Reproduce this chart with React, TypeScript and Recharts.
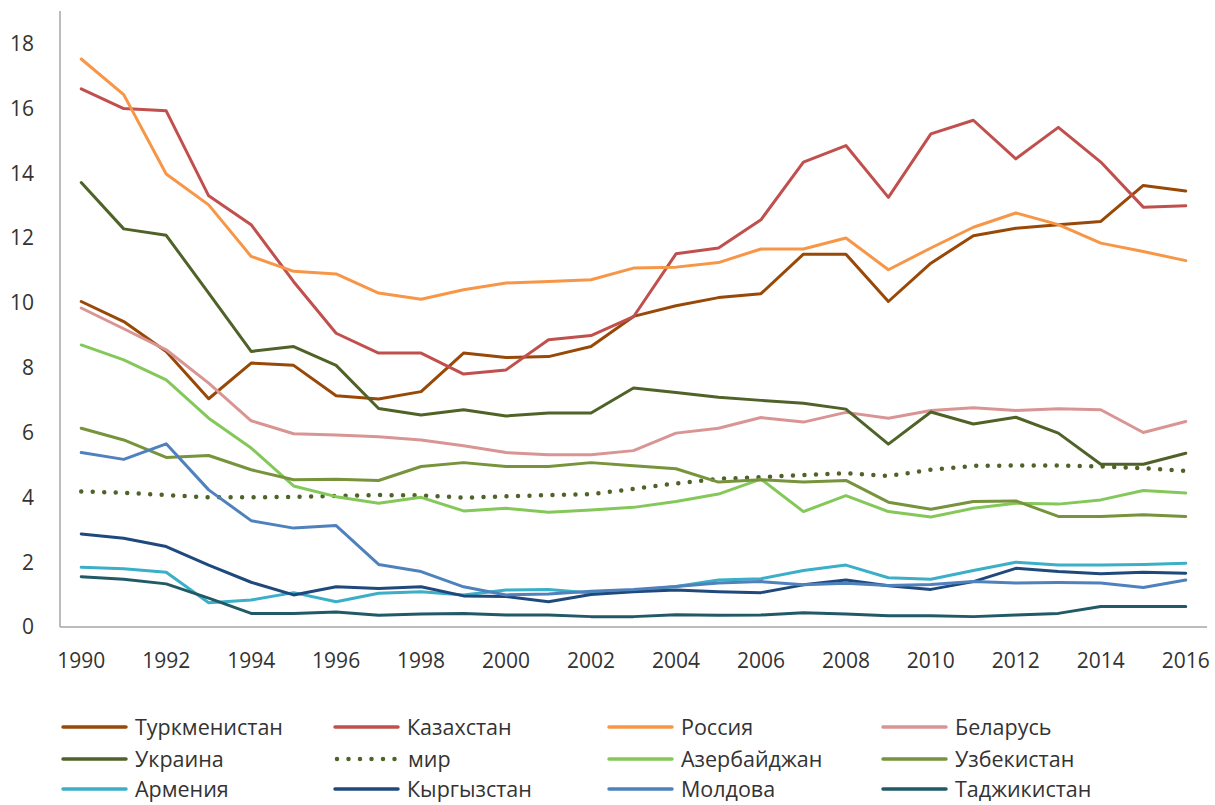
import React from "react";
import { LineChart, Line, XAxis, YAxis } from "recharts";

const years = [1990,1991,1992,1993,1994,1995,1996,1997,1998,1999,2000,2001,2002,2003,2004,2005,2006,2007,2008,2009,2010,2011,2012,2013,2014,2015,2016];
const xTicks = [1990,1992,1994,1996,1998,2000,2002,2004,2006,2008,2010,2012,2014,2016];
const yTicks = [0,2,4,6,8,10,12,14,16,18];

const turkmenistan = [10.04,9.42,8.5,7.04,8.14,8.07,7.13,7.03,7.26,8.45,8.31,8.34,8.65,9.58,9.91,10.16,10.28,11.5,11.5,10.04,11.22,12.07,12.3,12.41,12.51,13.62,13.45];
const kazakhstan = [16.6,15.99,15.92,13.3,12.41,10.65,9.06,8.45,8.45,7.8,7.93,8.86,8.99,9.57,11.51,11.69,12.56,14.34,14.85,13.25,15.21,15.63,14.44,15.41,14.34,12.95,12.99];
const russia = [17.52,16.42,13.97,13.02,11.43,10.97,10.89,10.3,10.11,10.4,10.61,10.66,10.71,11.07,11.1,11.24,11.66,11.66,12.0,11.02,11.69,12.33,12.77,12.41,11.84,11.58,11.3];
const belarus = [9.84,9.2,8.55,7.52,6.36,5.96,5.92,5.87,5.77,5.59,5.38,5.31,5.31,5.44,5.98,6.13,6.46,6.32,6.62,6.44,6.68,6.76,6.68,6.73,6.7,6.0,6.34];
const ukraine = [13.71,12.28,12.08,10.3,8.5,8.65,8.07,6.74,6.54,6.7,6.51,6.6,6.6,7.37,7.23,7.09,6.99,6.9,6.72,5.64,6.63,6.26,6.47,5.98,5.02,5.02,5.36];
const world = [4.18,4.14,4.07,4.0,4.0,4.01,4.04,4.07,4.06,3.99,4.03,4.07,4.1,4.26,4.43,4.57,4.62,4.69,4.74,4.66,4.85,4.97,4.98,4.98,4.95,4.9,4.81];
const azerbaijan = [8.7,8.24,7.62,6.44,5.52,4.35,4.02,3.82,4.0,3.58,3.66,3.54,3.61,3.69,3.87,4.1,4.56,3.56,4.05,3.56,3.39,3.66,3.82,3.79,3.92,4.21,4.13];
const uzbekistan = [6.13,5.77,5.23,5.29,4.85,4.54,4.56,4.52,4.95,5.07,4.95,4.95,5.07,4.97,4.88,4.47,4.54,4.47,4.52,3.85,3.63,3.87,3.89,3.41,3.41,3.46,3.41];
const armenia = [1.84,1.8,1.69,0.75,0.83,1.06,0.78,1.04,1.09,0.99,1.14,1.16,1.05,1.12,1.25,1.45,1.49,1.74,1.91,1.52,1.47,1.74,2.0,1.91,1.91,1.93,1.97];
const kyrgyzstan = [2.87,2.74,2.48,1.91,1.38,0.99,1.24,1.19,1.24,0.96,0.94,0.78,1.0,1.09,1.14,1.09,1.06,1.3,1.45,1.27,1.16,1.4,1.81,1.71,1.64,1.69,1.66];
const moldova = [5.38,5.17,5.65,4.23,3.28,3.05,3.13,1.93,1.71,1.24,0.99,1.02,1.1,1.16,1.25,1.36,1.4,1.3,1.35,1.28,1.31,1.4,1.36,1.37,1.36,1.22,1.45];
const tajikistan = [1.55,1.47,1.33,0.89,0.42,0.42,0.46,0.36,0.4,0.42,0.37,0.37,0.32,0.32,0.38,0.36,0.37,0.44,0.4,0.35,0.35,0.32,0.37,0.42,0.63,0.63,0.63];

const series = [
  { key: "tm", name: "Туркменистан", values: turkmenistan, color: "#984807" },
  { key: "kz", name: "Казахстан", values: kazakhstan, color: "#C0504D" },
  { key: "ru", name: "Россия", values: russia, color: "#F79646" },
  { key: "by", name: "Беларусь", values: belarus, color: "#D99594" },
  { key: "ua", name: "Украина", values: ukraine, color: "#4F6228" },
  { key: "wd", name: "мир", values: world, color: "#4F6228", dotted: true },
  { key: "az", name: "Азербайджан", values: azerbaijan, color: "#84C85A" },
  { key: "uz", name: "Узбекистан", values: uzbekistan, color: "#77933C" },
  { key: "am", name: "Армения", values: armenia, color: "#3BAFC8" },
  { key: "kg", name: "Кыргызстан", values: kyrgyzstan, color: "#1F497D" },
  { key: "md", name: "Молдова", values: moldova, color: "#4F81BD" },
  { key: "tj", name: "Таджикистан", values: tajikistan, color: "#215967" },
];

const data = years.map((y, i) => {
  const row: Record<string, number> = { year: y };
  series.forEach((s) => (row[s.key] = s.values[i]));
  return row;
});

const FONT = "'Open Sans', sans-serif";
const TEXT = "#333333";
const colLeft = [61, 333, 607, 881];
const rowY = [727, 759, 789];

export default function App() {
  return (
    <div style={{ position: "absolute", left: 0, top: 0, width: 1215, height: 805, background: "#fff", fontFamily: FONT, overflow: "hidden" }}>
      <LineChart width={1215} height={700} data={data} margin={{ top: 11, right: 8, left: 0, bottom: 33 }}>
        <XAxis
          dataKey="year"
          type="number"
          domain={[1989.5, 2016.5]}
          ticks={xTicks}
          tickLine={false}
          tickSize={0}
          tickMargin={26}
          height={40}
          axisLine={{ stroke: "#A6A6A6", strokeWidth: 1.5 }}
          tick={{ fill: TEXT, fontSize: 21, fontFamily: FONT }}
          interval={0}
        />
        <YAxis
          domain={[0, 19]}
          ticks={yTicks}
          width={60}
          tickLine={false}
          tickSize={0}
          tickMargin={26}
          axisLine={{ stroke: "#A6A6A6", strokeWidth: 1.5 }}
          tick={{ fill: TEXT, fontSize: 21, fontFamily: FONT }}
          interval={0}
        />
        {series.map((s) => (
          <Line
            key={s.key}
            dataKey={s.key}
            name={s.name}
            stroke={s.color}
            strokeWidth={s.dotted ? 4.5 : 3}
            strokeDasharray={s.dotted ? "0 11.5" : undefined}
            strokeLinecap="round"
            strokeLinejoin="round"
            dot={false}
            activeDot={false}
            isAnimationActive={false}
          />
        ))}
      </LineChart>
      {series.map((s, i) => {
        const col = i % 4;
        const row = Math.floor(i / 4);
        return (
          <div key={s.key} style={{ position: "absolute", left: colLeft[col], top: rowY[row] - 14, height: 28, display: "flex", alignItems: "center" }}>
            <svg width={67} height={10} style={{ display: "block" }}>
              {s.dotted ? (
                <line x1={4} y1={5} x2={64} y2={5} stroke={s.color} strokeWidth={4.5} strokeDasharray="0 11.5" strokeLinecap="round" />
              ) : (
                <line x1={2} y1={5} x2={65} y2={5} stroke={s.color} strokeWidth={3.5} strokeLinecap="round" />
              )}
            </svg>
            <span style={{ marginLeft: s.dotted ? 8 : 7, fontSize: 21.5, color: TEXT, lineHeight: "28px", whiteSpace: "nowrap" }}>{s.name}</span>
          </div>
        );
      })}
    </div>
  );
}
